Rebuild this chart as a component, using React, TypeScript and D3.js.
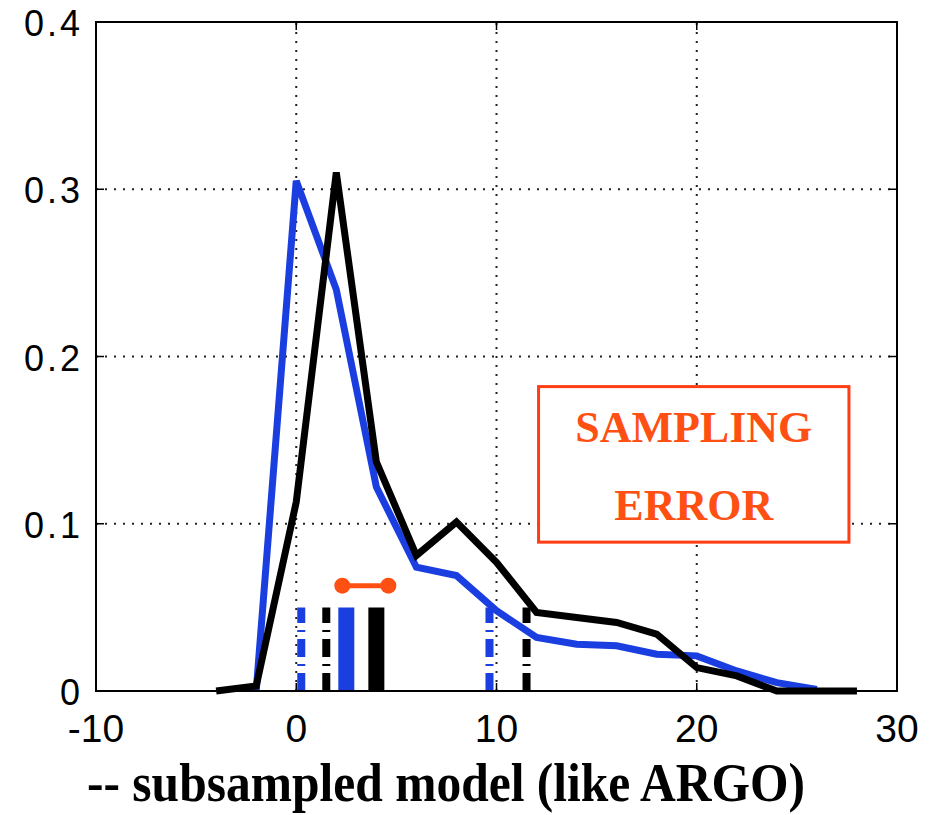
import React from 'react';
import * as d3 from 'd3';

// ---- data ----
const blackX = [-4, -2, 0, 2, 4, 6, 8, 10, 12, 14, 16, 18, 20, 22, 24, 26, 28];
const blackY = [0, 0.003, 0.113, 0.31, 0.137, 0.081, 0.101, 0.077, 0.047, 0.044, 0.041, 0.034, 0.014, 0.009, 0, 0, 0];
const blueX = [-2, 0, 2, 4, 6, 8, 10, 12, 14, 16, 18, 20, 22, 24, 26];
const blueY = [0, 0.305, 0.24, 0.122, 0.074, 0.069, 0.048, 0.032, 0.028, 0.027, 0.022, 0.021, 0.012, 0.005, 0.001];

const markerX = [0.25, 1.5, 2.5, 4.0, 9.65, 11.5];
const markerSeries = ['blue', 'black', 'blue', 'black', 'blue', 'black'];
const markerStyle = ['dashdot', 'dashdot', 'solid', 'solid', 'dashdot', 'dashdot'];
const markerHeight = 0.05;

const spreadX = [2.3, 4.6];
const spreadLevel = 0.063;

const annotationBox = { x0: 12.1, x1: 27.6, y0: 0.182, y1: 0.089 };
const annotationLines = ['SAMPLING', 'ERROR'];
const annotationLevels = [0.149, 0.102];

const xTicks = [-10, 0, 10, 20, 30];
const xTickLabels = ['-10', '0', '10', '20', '30'];
const yTicks = [0, 0.1, 0.2, 0.3, 0.4];
const yTickLabels = ['0', '0.1', '0.2', '0.3', '0.4'];
const xGrid = [0, 10, 20];
const yGrid = [0.1, 0.2, 0.3];
const caption = '-- subsampled model (like ARGO)';

const W = 941;
const H = 815;
const M = { left: 96, right: 44, top: 22, bottom: 124 };

const BLUE = '#1a3ee0';
const ORANGE = '#ff5014';

export default function App() {
  const x = d3.scaleLinear().domain([-10, 30]).range([M.left, W - M.right]);
  const y = d3.scaleLinear().domain([0, 0.4]).range([H - M.bottom, M.top]);
  const line = d3.line<[number, number]>().x((d) => x(d[0])).y((d) => y(d[1]));
  const blackPath = line(blackX.map((v, i) => [v, blackY[i]]) as [number, number][]) || '';
  const bluePath = line(blueX.map((v, i) => [v, blueY[i]]) as [number, number][]) || '';
  const x0 = x(-10), x1 = x(30), y0 = y(0), y1 = y(0.4);

  return (
    <svg width={W} height={H} style={{ position: 'absolute', left: 0, top: 0, background: '#fff' }}>
      {/* grid */}
      {xGrid.map((g) => (
        <line key={'gx' + g} x1={x(g)} x2={x(g)} y1={y0} y2={y1} stroke="#222" strokeWidth={2} strokeDasharray="2 7" />
      ))}
      {yGrid.map((g) => (
        <line key={'gy' + g} x1={x0} x2={x1} y1={y(g)} y2={y(g)} stroke="#222" strokeWidth={2} strokeDasharray="2 7" />
      ))}
      {/* ticks */}
      {xTicks.map((t) => (
        <g key={'xt' + t}>
          <line x1={x(t)} x2={x(t)} y1={y0} y2={y0 - 8} stroke="#000" strokeWidth={1.5} />
          <line x1={x(t)} x2={x(t)} y1={y1} y2={y1 + 8} stroke="#000" strokeWidth={1.5} />
        </g>
      ))}
      {yTicks.map((t) => (
        <g key={'yt' + t}>
          <line x1={x0} x2={x0 + 8} y1={y(t)} y2={y(t)} stroke="#000" strokeWidth={1.5} />
          <line x1={x1} x2={x1 - 8} y1={y(t)} y2={y(t)} stroke="#000" strokeWidth={1.5} />
        </g>
      ))}
      {/* markers */}
      {markerX.map((mx, i) => {
        const col = markerSeries[i] === 'blue' ? BLUE : '#000';
        const solid = markerStyle[i] === 'solid';
        return (
          <line
            key={'m' + i}
            x1={x(mx)}
            x2={x(mx)}
            y1={y(0)}
            y2={y(markerHeight)}
            stroke={col}
            strokeWidth={solid ? 16 : 8}
            strokeDasharray={solid ? undefined : '18 7 2 7'}
          />
        );
      })}
      {/* series */}
      <path d={bluePath} fill="none" stroke={BLUE} strokeWidth={7} strokeLinejoin="miter" />
      <path d={blackPath} fill="none" stroke="#000" strokeWidth={7} strokeLinejoin="miter" />
      {/* spread indicator */}
      <line x1={x(spreadX[0])} x2={x(spreadX[1])} y1={y(spreadLevel)} y2={y(spreadLevel)} stroke={ORANGE} strokeWidth={5} />
      {spreadX.map((sx, i) => (
        <circle key={'sc' + i} cx={x(sx)} cy={y(spreadLevel)} r={8} fill={ORANGE} />
      ))}
      {/* axes box */}
      <rect x={x0} y={y1} width={x1 - x0} height={y0 - y1} fill="none" stroke="#000" strokeWidth={2} />
      {/* annotation */}
      <rect
        x={x(annotationBox.x0)}
        y={y(annotationBox.y0)}
        width={x(annotationBox.x1) - x(annotationBox.x0)}
        height={y(annotationBox.y1) - y(annotationBox.y0)}
        fill="#fff"
        stroke="#ff3c14"
        strokeWidth={3}
      />
      {annotationLines.map((t, i) => (
        <text
          key={'an' + i}
          x={(x(annotationBox.x0) + x(annotationBox.x1)) / 2}
          y={y(annotationLevels[i])}
          textAnchor="middle"
          fontFamily="'Liberation Serif', 'Times New Roman', serif"
          fontWeight="bold"
          fontSize={44}
          fill={ORANGE}
        >
          {t}
        </text>
      ))}
      {/* tick labels */}
      {xTicks.map((t, i) => (
        <text key={'xl' + t} x={x(t)} y={742} textAnchor="middle" fontFamily="'Liberation Sans', Arial, sans-serif" fontSize={39} fill="#000">
          {xTickLabels[i]}
        </text>
      ))}
      {yTicks.map((t, i) => (
        <text key={'yl' + t} x={83} y={y(t) + 14} textAnchor="end" fontFamily="'Liberation Sans', Arial, sans-serif" fontSize={36} letterSpacing={3} fill="#000">
          {yTickLabels[i]}
        </text>
      ))}
      {/* caption */}
      <text
        x={87}
        y={801}
        fontFamily="'Liberation Serif', 'Times New Roman', serif"
        fontWeight="bold"
        fontSize={54}
        textLength={718}
        lengthAdjust="spacingAndGlyphs"
        fill="#000"
      >
        {caption}
      </text>
    </svg>
  );
}
